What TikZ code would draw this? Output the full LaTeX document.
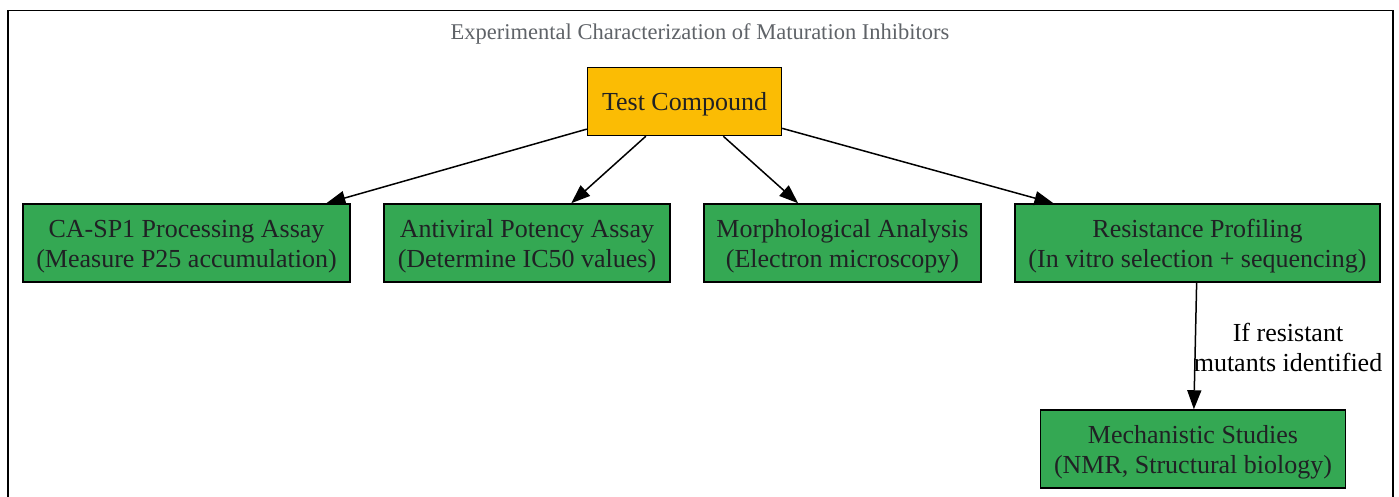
\documentclass[tikz,border=0pt]{standalone}
\usepackage{fontspec}
\setmainfont{Liberation Serif}
\usetikzlibrary{arrows.meta}
\definecolor{gGreen}{HTML}{34A853}
\definecolor{gYellow}{HTML}{FBBC04}
\definecolor{gText}{HTML}{202124}
\definecolor{gTitle}{HTML}{5F6368}
\newcommand{\mystrut}{\rule[-6pt]{0pt}{30pt}}
\tikzset{
  box/.style={draw=black, line width=1.5pt, inner sep=0pt, align=center, text=gText,
    font=\fontsize{26}{30}\selectfont},
  greenbox/.style={box, fill=gGreen, minimum height=78pt},
  yellowbox/.style={box, fill=gYellow, minimum height=68pt, minimum width=194pt},
  conn/.style={draw=black, line width=1.5pt, -{Triangle[length=19pt,width=14pt]}},
  elabel/.style={align=center, text=black, font=\fontsize{26}{30}\selectfont, inner sep=0pt},
  titletext/.style={text=gTitle, font=\fontsize{22.5}{26}\selectfont, inner sep=0pt},
  frame/.style={draw=black, line width=1.5pt}
}
\begin{document}
\begin{tikzpicture}[x=1pt, y=-1pt]
\useasboundingbox (0,0) rectangle (1399,497);
\clip (0,0) rectangle (1399,497);
\draw[frame] (8,10.5) rectangle (1393,530);
\node[titletext] (title) at (700,34) {Experimental Characterization of Maturation Inhibitors};
\node[yellowbox] (tc) at (684.5,101.5) {\mystrut Test Compound};
\node[greenbox, minimum width=327pt] (ca) at (186.5,243) {\mystrut CA-SP1 Processing Assay\\\mystrut(Measure P25 accumulation)};
\node[greenbox, minimum width=286pt] (av) at (527,243) {\mystrut Antiviral Potency Assay\\\mystrut(Determine IC50 values)};
\node[greenbox, minimum width=277pt] (mo) at (842.5,243) {\mystrut Morphological Analysis\\\mystrut(Electron microscopy)};
\node[greenbox, minimum width=365pt] (rp) at (1197.5,243) {\mystrut Resistance Profiling\\\mystrut(In vitro selection + sequencing)};
\node[greenbox, minimum width=305pt] (ms) at (1193,449) {\mystrut Mechanistic Studies\\\mystrut(NMR, Structural biology)};
\draw[conn] (tc) -- (ca);
\draw[conn] (tc) -- (av);
\draw[conn] (tc) -- (mo);
\draw[conn] (tc) -- (rp);
\draw[conn] (rp) -- (ms);
\node[elabel] (lbl) at (1288,347) {If resistant\\mutants identified};
\end{tikzpicture}
\end{document}
